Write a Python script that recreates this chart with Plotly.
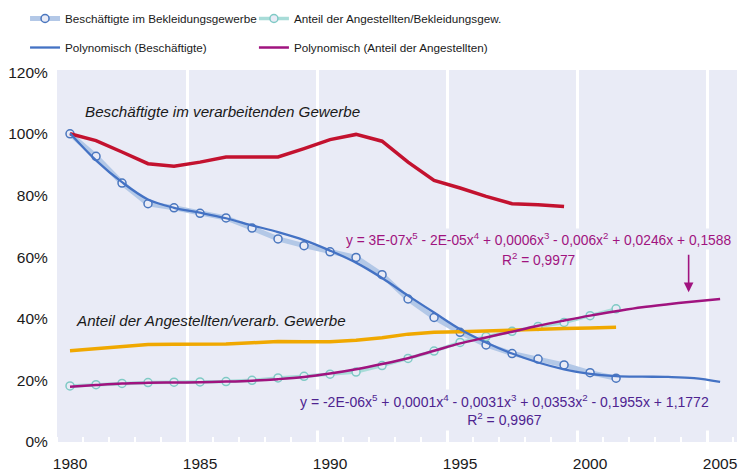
import plotly.graph_objects as go

# ---------------- data ----------------
years = list(range(1980, 2002))
years_verarb = list(range(1980, 2000))
trend_years = list(range(1980, 2006))

beschaeftigte_bekleidung = [1.000, 0.927, 0.840, 0.773, 0.760, 0.742, 0.727, 0.694, 0.659, 0.637, 0.617,
                            0.599, 0.543, 0.464, 0.404, 0.356, 0.315, 0.287, 0.269, 0.250, 0.225, 0.207]
anteil_angestellte_bekleidung = [0.182, 0.186, 0.190, 0.193, 0.194, 0.195, 0.196, 0.200, 0.208, 0.213, 0.220,
                                 0.227, 0.248, 0.271, 0.295, 0.323, 0.342, 0.359, 0.375, 0.388, 0.410, 0.432]
beschaeftigte_verarbeitend = [1.000, 0.978, 0.941, 0.903, 0.895, 0.908, 0.925, 0.925, 0.925, 0.952,
                              0.981, 0.998, 0.976, 0.908, 0.849, 0.824, 0.797, 0.773, 0.770, 0.764]
anteil_angestellte_verarbeitend = [0.296, 0.302, 0.310, 0.316, 0.317, 0.317, 0.318, 0.322, 0.326, 0.325, 0.325,
                                   0.330, 0.338, 0.350, 0.356, 0.358, 0.361, 0.363, 0.366, 0.368, 0.370, 0.372]
poly_beschaeftigte = [1.002, 0.914, 0.843, 0.787, 0.760, 0.744, 0.726, 0.703, 0.681, 0.655, 0.621, 0.582, 0.532,
                      0.475, 0.420, 0.366, 0.323, 0.287, 0.258, 0.236, 0.221, 0.214, 0.212, 0.211, 0.207, 0.195]
poly_anteil = [0.179, 0.185, 0.190, 0.192, 0.193, 0.194, 0.196, 0.199, 0.204, 0.211, 0.222, 0.236, 0.253,
               0.272, 0.296, 0.320, 0.339, 0.358, 0.377, 0.394, 0.410, 0.424, 0.437, 0.447, 0.456, 0.464]

y_tickvals = [0, 0.2, 0.4, 0.6, 0.8, 1.0, 1.2]
y_ticktext = ["0%", "20%", "40%", "60%", "80%", "100%", "120%"]
x_tickvals = [1980, 1985, 1990, 1995, 2000, 2005]
x_ticktext = ["1980", "1985", "1990", "1995", "2000", "2005"]
grid_vals = [1984.5, 1989.5, 1994.5, 1999.5, 2004.5]

eq_anteil = "y = 3E-07x<sup>5</sup> - 2E-05x<sup>4</sup> + 0,0006x<sup>3</sup> - 0,006x<sup>2</sup> + 0,0246x + 0,1588"
r2_anteil = "R<sup>2</sup> = 0,9977"
eq_besch = ("y = -2E-06x<sup>5</sup> + 0,0001x<sup>4</sup> - 0,0031x<sup>3</sup> + 0,0353x<sup>2</sup> - 0,1955x + 1,1772"
            "<br>R<sup>2</sup> = 0,9967")

# ---------------- style ----------------
BG = "#E9EBF6"
FONT = "Liberation Sans, Arial, sans-serif"
MAGENTA = "#A0137F"
PURPLE = "#4E2390"

fig = go.Figure()

fig.add_trace(go.Scatter(
    x=years, y=beschaeftigte_bekleidung, mode="lines+markers",
    name="Beschäftigte im Bekleidungsgewerbe",
    line=dict(color="#B3C8E7", width=5),
    marker=dict(symbol="circle", size=8, color=BG, line=dict(color="#4A76BE", width=1.5)),
    legend="legend", legendgroup="a"))
fig.add_trace(go.Scatter(
    x=years, y=anteil_angestellte_bekleidung, mode="lines+markers",
    name="Anteil der Angestellten/Bekleidungsgew.",
    line=dict(color="#A8DCD8", width=3.5),
    marker=dict(symbol="circle", size=8, color=BG, line=dict(color="#7FCAC5", width=1.5)),
    legend="legend2", legendgroup="b"))
fig.add_trace(go.Scatter(
    x=years_verarb, y=beschaeftigte_verarbeitend, mode="lines",
    name="Beschäftigte im verarbeitenden Gewerbe",
    line=dict(color="#C3122F", width=3.5), showlegend=False))
fig.add_trace(go.Scatter(
    x=years, y=anteil_angestellte_verarbeitend, mode="lines",
    name="Anteil der Angestellten/verarb. Gewerbe",
    line=dict(color="#F0A800", width=3.5), showlegend=False))
fig.add_trace(go.Scatter(
    x=trend_years, y=poly_beschaeftigte, mode="lines", line_shape="spline",
    name="Polynomisch (Beschäftigte)",
    line=dict(color="#4472C4", width=2.3),
    legend="legend", legendgroup="c"))
fig.add_trace(go.Scatter(
    x=trend_years, y=poly_anteil, mode="lines", line_shape="spline",
    name="Polynomisch (Anteil der Angestellten)",
    line=dict(color=MAGENTA, width=2.5),
    legend="legend2", legendgroup="d"))

# invisible trace to activate the gridline axis
fig.add_trace(go.Scatter(x=[1980], y=[0], xaxis="x2", mode="markers",
                         marker=dict(opacity=0), showlegend=False, hoverinfo="skip"))

XR = [1979.5, 2005.65]
LEGFONT = dict(family=FONT, size=11.7, color="#1a1a1a")
fig.update_layout(
    width=738, height=472,
    margin=dict(l=57, r=1, t=70, b=30, autoexpand=False),
    paper_bgcolor="white", plot_bgcolor=BG,
    font=dict(family=FONT, size=15, color="#1a1a1a"),
    xaxis=dict(range=XR, tickvals=x_tickvals, ticktext=x_ticktext, showgrid=False, zeroline=False,
               ticks="", showline=False, ticklabelstandoff=10,
               minor=dict(ticks="inside", tick0=1979.5, dtick=1, ticklen=5, tickwidth=2,
                          tickcolor="white", showgrid=False),
               tickfont=dict(size=15.5)),
    xaxis2=dict(range=XR, overlaying="x", side="bottom", tickvals=grid_vals, showticklabels=False,
                showgrid=True, gridcolor="white", gridwidth=3, zeroline=False, ticks="",
                layer="below traces"),
    yaxis=dict(range=[0, 1.207], tickvals=y_tickvals, ticktext=y_ticktext, showgrid=False,
               zeroline=False, ticks="outside", ticklen=4, tickwidth=2, tickcolor="white",
               ticklabelstandoff=1, tickfont=dict(size=15.5)),
    legend=dict(x=-0.047, y=1.1774, xanchor="left", yanchor="top", bgcolor="rgba(0,0,0,0)",
                font=LEGFONT, tracegroupgap=10, orientation="v"),
    legend2=dict(x=0.2896, y=1.1774, xanchor="left", yanchor="top", bgcolor="rgba(0,0,0,0)",
                 font=LEGFONT, tracegroupgap=10, orientation="v"),
    showlegend=True,
)

annotations = [
    dict(x=1980.5, y=1.071, xref="x", yref="y", text="<i>Beschäftigte im verarbeitenden Gewerbe</i>",
         showarrow=False, xanchor="left", yanchor="middle", font=dict(size=15.2, color="#1a1a1a")),
    dict(x=1980.17, y=0.395, xref="x", yref="y", text="<i>Anteil der Angestellten/verarb. Gewerbe</i>",
         showarrow=False, xanchor="left", yanchor="middle", font=dict(size=15.2, color="#1a1a1a")),
    dict(x=1998.0, y=0.658, xref="x", yref="y", text=eq_anteil, showarrow=False,
         xanchor="center", yanchor="middle", bgcolor=BG, borderpad=1,
         font=dict(size=13.8, color=MAGENTA)),
    dict(x=1998.0, y=0.593, xref="x", yref="y", text=r2_anteil, showarrow=False,
         xanchor="center", yanchor="middle", font=dict(size=13.8, color=MAGENTA)),
    dict(x=1996.69, y=0.103, xref="x", yref="y", text=eq_besch, showarrow=False,
         xanchor="center", yanchor="middle", bgcolor=BG, borderpad=2,
         font=dict(size=14, color=PURPLE)),
    dict(x=2003.79, y=0.486, xref="x", yref="y", text="", showarrow=True, ax=0, ay=-39,
         arrowhead=2, arrowsize=1.2, arrowwidth=1.6, arrowcolor=MAGENTA),
]
fig.update_layout(annotations=annotations)

fig.write_html("out.html", config={"displayModeBar": False},
               post_script="document.body.style.margin='0';document.body.style.overflow='hidden';")
